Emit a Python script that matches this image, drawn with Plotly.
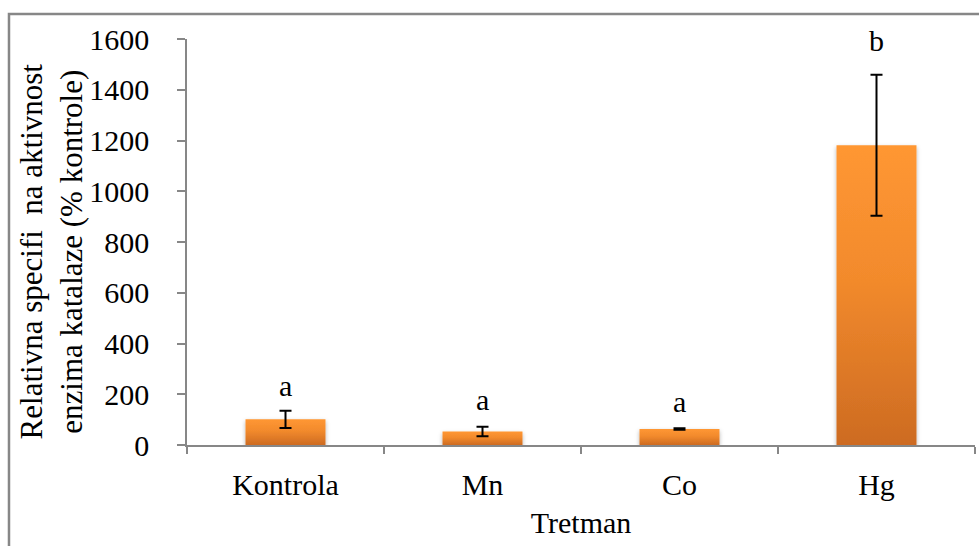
import plotly.graph_objects as go

categories = ["Kontrola", "Mn", "Co", "Hg"]
values = [101, 53, 63, 1181]
errors = [34, 19, 3, 278]
letters = ["a", "a", "a", "b"]
letter_y = [236, 181, 173, 1596]
y_ticks = [0, 200, 400, 600, 800, 1000, 1200, 1400, 1600]

FONT = "Liberation Serif"
GRAY = "#878787"
FS = 30

fig = go.Figure()
fig.add_trace(go.Bar(
    x=categories, y=values,
    marker=dict(color="#EE8126", line=dict(width=0)),
    error_y=dict(type="data", array=errors, visible=True,
                 color="black", thickness=2, width=6),
    showlegend=False,
))

for c, t, ly in zip(categories, letters, letter_y):
    fig.add_annotation(x=c, y=ly, text=t, showarrow=False,
                       xanchor="center", yanchor="middle",
                       font=dict(family=FONT, size=FS, color="black"))

fig.add_annotation(
    xref="paper", yref="paper", x=-0.172, y=0.478,
    text="Relativna specifi\u00a0 na aktivnost<br>enzima katalaze (% kontrole)",
    textangle=-90, showarrow=False, xanchor="center", yanchor="middle",
    font=dict(family=FONT, size=31, color="black"))

# outer chart frame
fig.add_shape(type="rect", xref="paper", yref="paper",
              x0=-0.2259, y0=-0.5, x1=1.2, y1=1.0616,
              line=dict(color=GRAY, width=2.5), fillcolor="rgba(0,0,0,0)",
              layer="below")

fig.update_layout(
    width=979, height=546,
    margin=dict(l=187, r=4, t=39, b=101),
    paper_bgcolor="white", plot_bgcolor="white",
    bargap=0.594,
    font=dict(family=FONT, size=FS, color="black"),
    xaxis=dict(
        showline=True, linecolor=GRAY, linewidth=2,
        ticks="outside", tickson="boundaries", ticklen=7, tickcolor=GRAY, tickwidth=1.5,
        showgrid=False, zeroline=False, ticklabelstandoff=12,
        title=dict(text="Tretman", font=dict(family=FONT, size=FS), standoff=12),
        tickfont=dict(family=FONT, size=FS),
    ),
    yaxis=dict(
        range=[0, 1600], tickvals=y_ticks,
        showline=True, linecolor=GRAY, linewidth=1.5,
        ticks="outside", ticklen=8, tickcolor=GRAY, tickwidth=1.5,
        showgrid=False, zeroline=False, ticklabelstandoff=22,
        tickfont=dict(family=FONT, size=FS),
    ),
)

post = """
document.body.style.margin = '0';
var gd = document.getElementById('{plot_id}');
var svg = gd.querySelector('.main-svg');
var ns = 'http://www.w3.org/2000/svg';
var defs = svg.querySelector('defs');
if (!defs) { defs = document.createElementNS(ns, 'defs'); svg.insertBefore(defs, svg.firstChild); }
var g = document.createElementNS(ns, 'linearGradient');
g.setAttribute('id', 'barGrad'); g.setAttribute('x1', '0'); g.setAttribute('y1', '0');
g.setAttribute('x2', '0'); g.setAttribute('y2', '1');
[['0', '#FF9733'], ['0.45', '#F28A2C'], ['1', '#CD6B22']].forEach(function(s) {
  var st = document.createElementNS(ns, 'stop');
  st.setAttribute('offset', s[0]); st.setAttribute('stop-color', s[1]);
  g.appendChild(st);
});
defs.appendChild(g);
var f = document.createElementNS(ns, 'filter');
f.setAttribute('id', 'barShadow'); f.setAttribute('x', '-20%'); f.setAttribute('y', '-20%');
f.setAttribute('width', '140%'); f.setAttribute('height', '140%');
var ds = document.createElementNS(ns, 'feDropShadow');
ds.setAttribute('dx', '0'); ds.setAttribute('dy', '2'); ds.setAttribute('stdDeviation', '2');
ds.setAttribute('flood-color', '#000'); ds.setAttribute('flood-opacity', '0.3');
f.appendChild(ds); defs.appendChild(f);
gd.querySelectorAll('.barlayer .point path').forEach(function(p) {
  p.style.fill = 'url(#barGrad)';
  p.setAttribute('filter', 'url(#barShadow)');
});
"""

fig.write_html("out.html", post_script=post, config={"displayModeBar": False})
